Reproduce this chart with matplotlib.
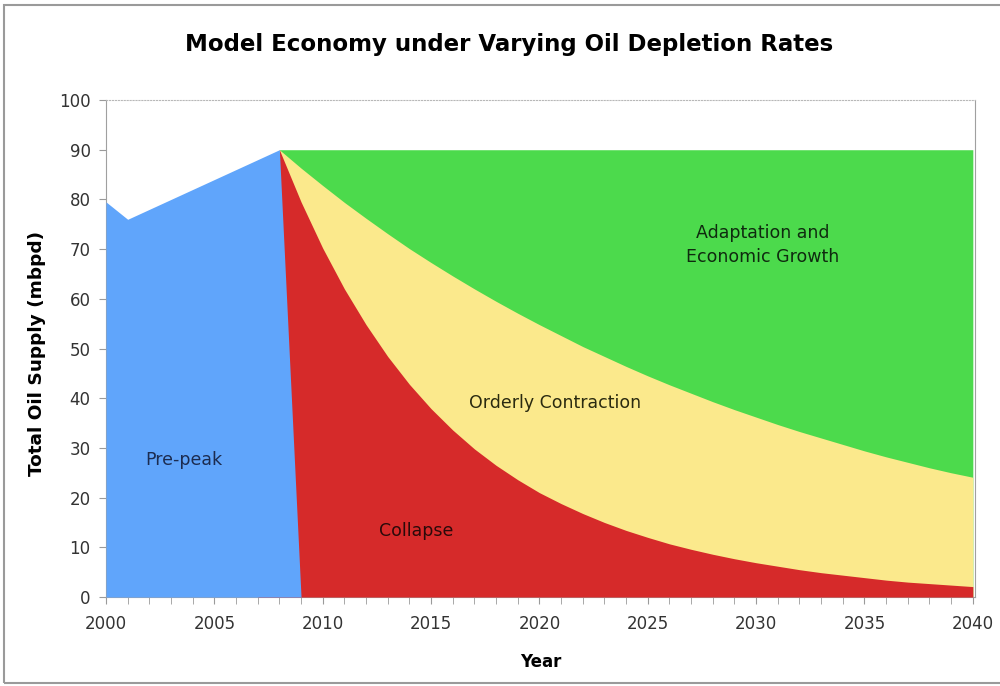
import matplotlib
matplotlib.use("Agg")
import matplotlib.pyplot as plt
from matplotlib.patches import Rectangle

# ---- data ----
years_prepeak = [2000, 2001, 2002, 2003, 2004, 2005, 2006, 2007, 2008, 2009]
prepeak = [79.5, 76, 78, 80, 82, 84, 86, 88, 90, 0]

years_post = list(range(2007, 2041))
growth = [0] + [90] * 33
orderly = [0, 90, 86.3, 82.8, 79.4, 76.2, 73.1, 70.1, 67.3, 64.6, 62.0, 59.5, 57.1,
           54.8, 52.6, 50.4, 48.4, 46.4, 44.5, 42.7, 41.0, 39.3, 37.7, 36.2, 34.7,
           33.3, 32.0, 30.7, 29.4, 28.2, 27.1, 26.0, 25.0, 24.1]
collapse = [0, 90, 79.5, 70.2, 62.0, 54.8, 48.4, 42.8, 37.9, 33.6, 29.8, 26.5, 23.6,
            21.0, 18.8, 16.8, 15.0, 13.4, 12.0, 10.7, 9.6, 8.6, 7.7, 6.9, 6.2,
            5.5, 4.9, 4.4, 3.9, 3.4, 3.0, 2.7, 2.4, 2.1]

labels = ["Pre-peak", "Collapse", "Orderly Contraction", "Adaptation and\nEconomic Growth"]
label_pos = [(2003.6, 27.6), (2014.3, 13.3), (2020.7, 39.0), (2030.3, 70.8)]

c_blue = "#60a5fb"
c_red = "#d62a2a"
c_yellow = "#fbe98c"
c_green = "#4cda4c"

fig = plt.figure(figsize=(10, 6.86), dpi=100)
fig.patches.append(Rectangle((0.004, 0.004), 1.2, 0.988, transform=fig.transFigure,
                             fill=False, edgecolor="#9a9a9a", linewidth=1.5))
ax = fig.add_axes([0.106, 0.1297, 0.869, 0.7245])

ax.fill_between(years_post, growth, 0, color=c_green, linewidth=0, zorder=1)
ax.fill_between(years_post, orderly, 0, color=c_yellow, linewidth=0, zorder=2)
ax.fill_between(years_post, collapse, 0, color=c_red, linewidth=0, zorder=3)
ax.fill_between(years_prepeak, prepeak, 0, color=c_blue, linewidth=0, zorder=4)

ax.set_xlim(2000, 2040.1)
ax.set_ylim(0, 100)
ax.set_xticks(list(range(2000, 2041, 5)))
ax.set_xticks(list(range(2000, 2041, 1)), minor=True)
ax.set_yticks(list(range(0, 101, 10)))
ax.tick_params(axis="both", which="both", direction="out", length=5, color="#9a9a9a",
               labelsize=12, labelcolor="#333333")
ax.tick_params(axis="x", pad=8)
ax.tick_params(axis="y", pad=6)

for side in ["left", "right", "bottom"]:
    ax.spines[side].set_color("#a0a0a0")
ax.spines["top"].set_color("#b8b8b8")
ax.spines["top"].set_linestyle(":")

ax.set_xlabel("Year", fontsize=12, fontweight="bold", labelpad=14)
ax.set_ylabel("Total Oil Supply (mbpd)", fontsize=13.3, fontweight="bold")
ax.yaxis.set_label_coords(-0.069, 0.49)
fig.suptitle("Model Economy under Varying Oil Depletion Rates", fontsize=16.5,
             fontweight="bold", x=0.509, y=0.952)

colors_txt = ["#1c2c50", "#2a0a0a", "#2a2a10", "#0f2a0f"]
for t, (x, y), c in zip(labels, label_pos, colors_txt):
    ax.text(x, y, t, ha="center", va="center", fontsize=12.5, color=c, zorder=10,
            linespacing=1.4)

fig.savefig("out.png", dpi=100)
